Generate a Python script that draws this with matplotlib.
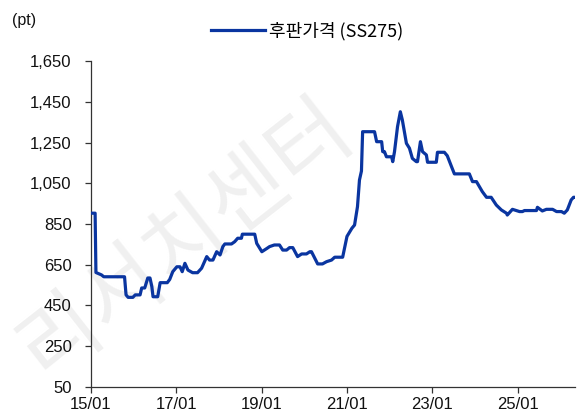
import matplotlib
matplotlib.use("Agg")
import matplotlib.pyplot as plt
import matplotlib.dates as mdates
import numpy as np
import pandas as pd

# 후판가격 (SS275) 지수 - 그림에서 읽은 값
dates = [
    "2015-01-01", "2015-02-05", "2015-02-12", "2015-04-01", "2015-04-20", "2015-10-15",
    "2015-10-28", "2015-11-15", "2015-12-25", "2016-01-15", "2016-02-25", "2016-03-10",
    "2016-04-05", "2016-05-01", "2016-05-20", "2016-06-05", "2016-06-15", "2016-07-25",
    "2016-08-15", "2016-10-15", "2016-11-05", "2016-12-01", "2017-01-05", "2017-02-01",
    "2017-02-20", "2017-03-15", "2017-04-10", "2017-05-20", "2017-07-01", "2017-08-05",
    "2017-09-18", "2017-10-12", "2017-11-10", "2017-12-12", "2018-01-10", "2018-02-03",
    "2018-02-20", "2018-04-18", "2018-05-15", "2018-06-10", "2018-07-12", "2018-07-20",
    "2018-11-03", "2018-11-20", "2019-01-03", "2019-02-15", "2019-03-10", "2019-04-20",
    "2019-06-03", "2019-07-01", "2019-08-03", "2019-08-28", "2019-09-25", "2019-11-05",
    "2019-12-10", "2020-01-20", "2020-02-18", "2020-03-03", "2020-04-25", "2020-06-05",
    "2020-07-10", "2020-08-22", "2020-09-18", "2020-11-25", "2021-01-01", "2021-02-12",
    "2021-03-07", "2021-04-01", "2021-04-18", "2021-05-05", "2021-05-15", "2021-08-25",
    "2021-09-12", "2021-10-25", "2021-11-03", "2021-11-18", "2021-12-05", "2022-01-18",
    "2022-01-28", "2022-02-12", "2022-03-10", "2022-04-03", "2022-04-20", "2022-05-25",
    "2022-06-20", "2022-07-15", "2022-08-18", "2022-08-28", "2022-09-22", "2022-10-10",
    "2022-11-12", "2022-11-22", "2023-02-05", "2023-02-15", "2023-04-15", "2023-05-10",
    "2023-06-15", "2023-07-10", "2023-11-15", "2023-12-12", "2024-01-15", "2024-03-05",
    "2024-04-10", "2024-05-20", "2024-07-03", "2024-08-15", "2024-09-28", "2024-10-05",
    "2024-11-18", "2025-01-18", "2025-02-12", "2025-03-01", "2025-06-12", "2025-06-20",
    "2025-08-01", "2025-09-05", "2025-10-28", "2025-12-01", "2026-01-12", "2026-02-05",
    "2026-03-03", "2026-04-05", "2026-04-25", "2026-05-08",
]
values = [
    903, 903, 612, 600, 591, 591,
    502, 490, 490, 502, 502, 536,
    536, 585, 585, 542, 493, 493,
    562, 562, 578, 616, 640, 640,
    616, 657, 624, 611, 611, 633,
    690, 673, 673, 714, 698, 739,
    752, 752, 763, 780, 780, 800,
    800, 755, 714, 730, 739, 747,
    747, 722, 722, 734, 734, 690,
    703, 703, 714, 714, 654, 654,
    665, 673, 687, 687, 789, 829,
    845, 935, 1066, 1110, 1303, 1303,
    1254, 1254, 1205, 1205, 1180, 1180,
    1156, 1205, 1328, 1401, 1361, 1246,
    1222, 1172, 1156, 1156, 1254, 1205,
    1189, 1153, 1153, 1202, 1202, 1185,
    1132, 1096, 1096, 1058, 1058, 1009,
    981, 981, 943, 919, 903, 894,
    922, 911, 911, 916, 916, 932,
    914, 922, 922, 911, 911, 903,
    919, 968, 981, 981,
]

y_ticks = [50, 250, 450, 650, 850, 1050, 1250, 1450, 1650]
x_ticks = ["2015-01-01", "2017-01-01", "2019-01-01", "2021-01-01", "2023-01-01", "2025-01-01"]

plt.rcParams["font.family"] = ["Liberation Sans", "Noto Sans CJK KR", "DejaVu Sans"]

fig = plt.figure(figsize=(5.82, 4.19), dpi=100)
ax = fig.add_axes([0.1564, 0.0764, 0.988 - 0.1564, 0.8544 - 0.0764])

# 워터마크 (선 아래에 깔리도록 axes 안에 그림)
ax.text(0.318, 0.43, "리서치센터", fontsize=62, rotation=38, color="#f0f0f0",
        family=["Noto Sans CJK KR"], fontweight="light",
        ha="center", va="center", zorder=0, transform=fig.transFigure, clip_on=False)

x = pd.to_datetime(dates)
ax.plot(x, values, color="#0a35a0", lw=2.3, label="후판가격 (SS275)",
        solid_joinstyle="round", zorder=3)

ax.set_ylim(50, 1650)
ax.set_yticks(y_ticks)
ax.set_yticklabels([f"{v:,}" for v in y_ticks])
ax.set_xlim(pd.Timestamp("2015-01-01"), pd.Timestamp("2026-05-08"))
ax.set_xticks(pd.to_datetime(x_ticks))
ax.xaxis.set_major_formatter(mdates.DateFormatter("%y/%m"))

for side in ["top", "right"]:
    ax.spines[side].set_visible(False)
for side in ["left", "bottom"]:
    ax.spines[side].set_color("#333333")
    ax.spines[side].set_linewidth(0.9)
ax.tick_params(axis="both", direction="out", length=4, width=0.9, color="#333333",
               labelsize=12, labelcolor="#111111")
ax.tick_params(axis="y", pad=10)
ax.tick_params(axis="x", pad=3)
ax.patch.set_alpha(0)

fig.text(12 / 582, 1 - 20 / 419, "(pt)", fontsize=11.5, va="center", ha="left", color="#111111")

fig.legend(loc="center", bbox_to_anchor=(307 / 582, 1 - 31 / 419), frameon=False,
           handlelength=3.0, handletextpad=0.25,
           prop={"family": ["Noto Sans CJK KR"], "size": 13})

fig.savefig("out.png", dpi=100)
plt.close(fig)
